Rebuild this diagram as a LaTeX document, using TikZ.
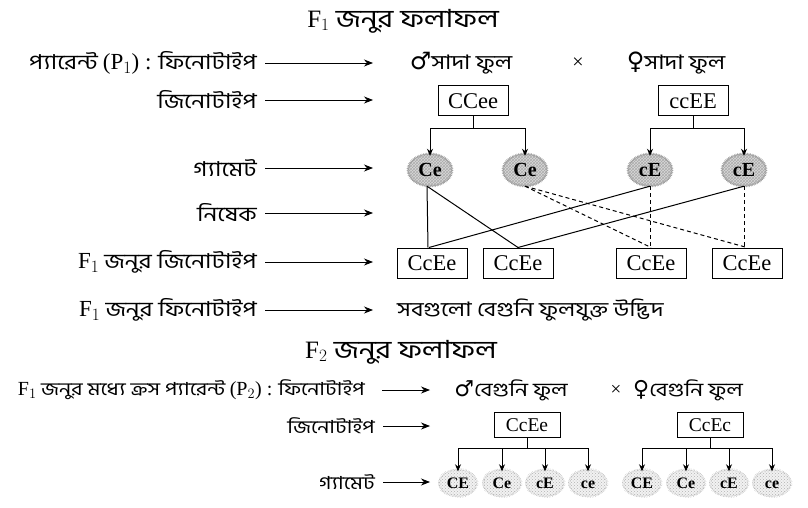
\documentclass[tikz,border=0pt]{standalone}
\usepackage{fontspec}
\setmainfont{Liberation Serif}
\newfontfamily\bn[Script=Bengali,FakeStretch=1.2]{Hind Siliguri}
\newfontfamily\sym{DejaVu Sans}
\usetikzlibrary{arrows.meta,shapes.geometric,decorations.pathmorphing,patterns}
\newcommand{\lat}[1]{{\fontsize{23}{24}\selectfont #1}}
\newcommand{\slat}[1]{{\fontsize{20}{21}\selectfont #1}}
\begin{document}
\begin{tikzpicture}[x=1pt,y=-1pt,
  lab/.style={anchor=east,inner sep=0pt,font=\fontsize{20.5}{24}\selectfont},
  slab/.style={anchor=east,inner sep=0pt,font=\fontsize{18}{21}\selectfont},
  txt/.style={inner sep=0pt,font=\fontsize{20}{24}\selectfont},
  stxt/.style={inner sep=0pt,font=\fontsize{19}{22}\selectfont},
  ttl/.style={inner sep=0pt,font=\fontsize{25}{28}\selectfont},
  arr/.style={-{Stealth[length=9pt,width=7pt]},line width=0.8pt},
  tarr/.style={-{Stealth[length=7pt,width=6pt]},line width=0.9pt},
  link/.style={line width=1pt},
  dlink/.style={line width=1pt,dash pattern=on 4pt off 3pt},
  gbox/.style={draw,line width=1pt,minimum width=70pt,minimum height=30pt,inner sep=1pt,font=\fontsize{22.5}{24}\selectfont},
  sbox/.style={draw,line width=1pt,minimum width=66pt,minimum height=25pt,inner sep=1pt,font=\fontsize{19.5}{21}\selectfont},
  gam/.style={ellipse,preaction={fill=gray!30},pattern=crosshatch,pattern color=gray!65,draw=gray!75,decorate,decoration={zigzag,segment length=1.6pt,amplitude=1pt},minimum width=44pt,minimum height=32pt,inner sep=0pt,text height=13pt,text depth=0pt,font=\bfseries\fontsize{20}{22}\selectfont},
  sgam/.style={ellipse,preaction={fill=gray!10},pattern=crosshatch dots,pattern color=gray!60,draw=gray!55,densely dotted,decorate,decoration={zigzag,segment length=1.6pt,amplitude=1pt},minimum width=38pt,minimum height=27pt,inner sep=0pt,text height=10.5pt,text depth=0pt,font=\bfseries\fontsize{16}{18}\selectfont}
]
\useasboundingbox (0,0) rectangle (808,508);
% ---------- F1 ----------
\node[ttl] (t1) at (403,21) {F$_1$ {\bn জনুর ফলাফল}};
\node[lab] (l1) at (257,63) {{\bn প্যারেন্ট} \lat{(P$_1$) :} {\bn ফিনোটাইপ}};
\node[lab] (l2) at (257,100) {\bn জিনোটাইপ};
\node[lab] (l3) at (257,168) {\bn গ্যামেট};
\node[lab] (l4) at (257,213) {\bn নিষেক};
\node[lab] (l5) at (257,262) {\lat{F$_1$} {\bn জনুর জিনোটাইপ}};
\node[lab] (l6) at (257,310) {\lat{F$_1$} {\bn জনুর ফিনোটাইপ}};
\foreach \i/\y in {1/63,2/100,3/168,4/213,5/262,6/310}{
  \coordinate (e\i) at (373,\y);
  \draw[arr] ([xshift=8pt]l\i.east) -- (e\i);
}
\node[txt] (m1) at (461,63) {{\sym\fontsize{24}{24}\selectfont ♂}{\bn সাদা ফুল}};
\node[txt] (x1) at (578,63) {×};
\node[txt] (f1) at (676,63) {{\sym\fontsize{24}{24}\selectfont ♀}{\bn সাদা ফুল}};
\node[gbox] (p1) at (473,101) {CCee};
\node[gbox] (p2) at (693,101) {ccEE};
\node[gam] (g1) at (430,170) {Ce};
\node[gam] (g2) at (525,170) {Ce};
\node[gam] (g3) at (650,170) {cE};
\node[gam] (g4) at (744,170) {cE};
\coordinate (b1) at (473,128);
\coordinate (b2) at (693,128);
\draw[link] (p1.south) -- (b1);
\draw[link] (p2.south) -- (b2);
\draw[tarr] (b1) -| ([yshift=-2pt]g1.north);
\draw[tarr] (b1) -| ([yshift=-2pt]g2.north);
\draw[tarr] (b2) -| ([yshift=-2pt]g3.north);
\draw[tarr] (b2) -| ([yshift=-2pt]g4.north);
\node[gbox] (c1) at (432,263) {CcEe};
\node[gbox] (c2) at (518,263) {CcEe};
\node[gbox] (c3) at (651,263) {CcEe};
\node[gbox] (c4) at (747,263) {CcEe};
\draw[link] ([xshift=-3pt]g1.south) -- ([xshift=-4pt]c1.north);
\draw[link] ([xshift=-3pt]g1.south) -- (c2.north);
\draw[link] (g3.south) -- ([xshift=-3pt]c1.north);
\draw[link] (g4.south) -- (c2.north);
\draw[dlink] (g2.south) -- (c3.north);
\draw[dlink] (g2.south) -- (c4.north);
\draw[dlink] (g3.south) -- (g3.south |- c3.north);
\draw[dlink] (g4.south) -- (g4.south |- c4.north);
\node[txt,anchor=west] (ph) at (397,310) {\bn সবগুলো বেগুনি ফুলযুক্ত উদ্ভিদ};
% ---------- F2 ----------
\node[ttl] (t2) at (401,352) {F$_2$ {\bn জনুর ফলাফল}};
\node[slab] (s1) at (365,390) {\slat{F$_1$} {\bn জনুর মধ্যে ক্রস প্যারেন্ট} \slat{(P$_2$) :} {\bn ফিনোটাইপ}};
\node[slab] (s2) at (375,426) {\bn জিনোটাইপ};
\node[slab] (s3) at (375,482) {\bn গ্যামেট};
\foreach \i/\y in {1/390,2/426,3/482}{
  \coordinate (d\i) at (430,\y);
}
\draw[arr] ([xshift=17pt]s1.east) -- (d1);
\draw[arr] ([xshift=8pt]s2.east) -- (d2);
\draw[arr] ([xshift=8pt]s3.east) -- (d3);
\node[stxt] (m2) at (511,390) {{\sym\fontsize{22}{22}\selectfont ♂}{\bn বেগুনি ফুল}};
\node[stxt] (x2) at (616,390) {×};
\node[stxt] (f2) at (688,390) {{\sym\fontsize{22}{22}\selectfont ♀}{\bn বেগুনি ফুল}};
\node[sbox] (q1) at (527,425) {CcEe};
\node[sbox] (q2) at (710,425) {CcEc};
\coordinate (r1) at (527,448);
\coordinate (r2) at (710,448);
\draw[link] (q1.south) -- (r1);
\draw[link] (q2.south) -- (r2);
\node[sgam] (h1) at (458,483) {CE};
\node[sgam] (h2) at (502,483) {Ce};
\node[sgam] (h3) at (545,483) {cE};
\node[sgam] (h4) at (588,483) {ce};
\node[sgam] (k1) at (642,483) {CE};
\node[sgam] (k2) at (686,483) {Ce};
\node[sgam] (k3) at (729,483) {cE};
\node[sgam] (k4) at (772,483) {ce};
\foreach \n in {h1,h2,h3,h4}{\draw[tarr] (r1) -| ([yshift=-2pt]\n.north);}
\foreach \n in {k1,k2,k3,k4}{\draw[tarr] (r2) -| ([yshift=-2pt]\n.north);}
\end{tikzpicture}
\end{document}
